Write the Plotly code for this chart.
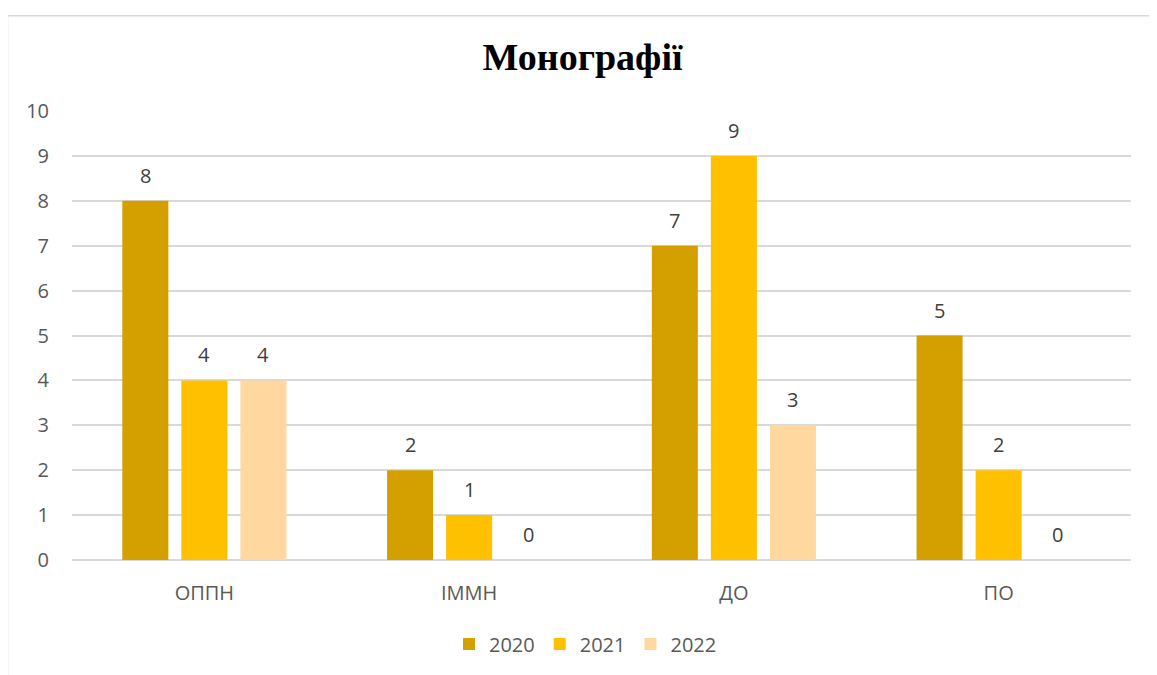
import plotly.graph_objects as go

categories = ["ОППН", "ІММН", "ДО", "ПО"]
years = ["2020", "2021", "2022"]
values_2020 = [8, 2, 7, 5]
values_2021 = [4, 1, 9, 2]
values_2022 = [4, 0, 3, 0]
colors = ["#D4A000", "#FFC000", "#FFD8A0"]

OFF = 8  # page body margin
W, H = 1157 - OFF, 675 - OFF
L, R, T, B = 72 - OFF, 26, 111 - OFF, 109
pw, ph = W - L - R, H - T - B

def px_x(x):
    return (x - OFF - L) / pw

def px_y(y):
    return (H - B - (y - OFF)) / ph

FONT = "Open Sans, Liberation Sans, sans-serif"
BARGAP = 0.331
slot_px = (1 - BARGAP) / 3 * pw / len(categories)

fig = go.Figure()
series = [values_2020, values_2021, values_2022]
for i, (name, vals, col) in enumerate(zip(years, series, colors)):
    fig.add_trace(go.Bar(
        x=categories, y=vals, name=name, marker_color=col, marker_line_width=0,
    ))
    for c, v in zip(categories, vals):
        fig.add_annotation(x=c, y=v, text=str(v), showarrow=False,
                           xshift=(i - 1) * slot_px, yshift=10, yanchor="bottom",
                           font=dict(size=20, color="#404040", family=FONT))

fig.add_shape(type="rect", xref="paper", yref="paper",
              x0=px_x(7.5), x1=px_x(1156.5), y0=px_y(700), y1=px_y(14.5),
              line=dict(color="#D9D9D9", width=1.5), fillcolor="rgba(0,0,0,0)", layer="below")

fig.update_layout(
    width=W, height=H,
    margin=dict(l=L, r=R, t=T, b=B),
    paper_bgcolor="white", plot_bgcolor="white",
    barmode="group", bargap=BARGAP, bargroupgap=0.22,
    title=dict(text="<b>Монографії</b>", x=0.5, xref="container", xanchor="center",
               y=1 - (57 - OFF) / H, yanchor="middle",
               font=dict(family="Liberation Serif, Times New Roman, serif", size=38, color="black")),
    font=dict(family=FONT, color="#595959", size=20),
    yaxis=dict(range=[0, 10], dtick=1, showgrid=True, gridcolor="#D9D9D9", gridwidth=1.5,
               zeroline=True, zerolinecolor="#D9D9D9", zerolinewidth=1.5,
               showline=False, ticks="", ticklabelstandoff=22,
               tickfont=dict(size=20, color="#595959")),
    xaxis=dict(showgrid=False, showline=False, ticks="", ticklabelstandoff=19,
               tickfont=dict(size=20, color="#595959")),
    legend=dict(orientation="h", x=0.5 - 16 / pw, xanchor="center", y=px_y(651), yanchor="middle",
                font=dict(size=20, color="#595959"), itemwidth=30, traceorder="normal"),
)

fig.write_html("out.html")
